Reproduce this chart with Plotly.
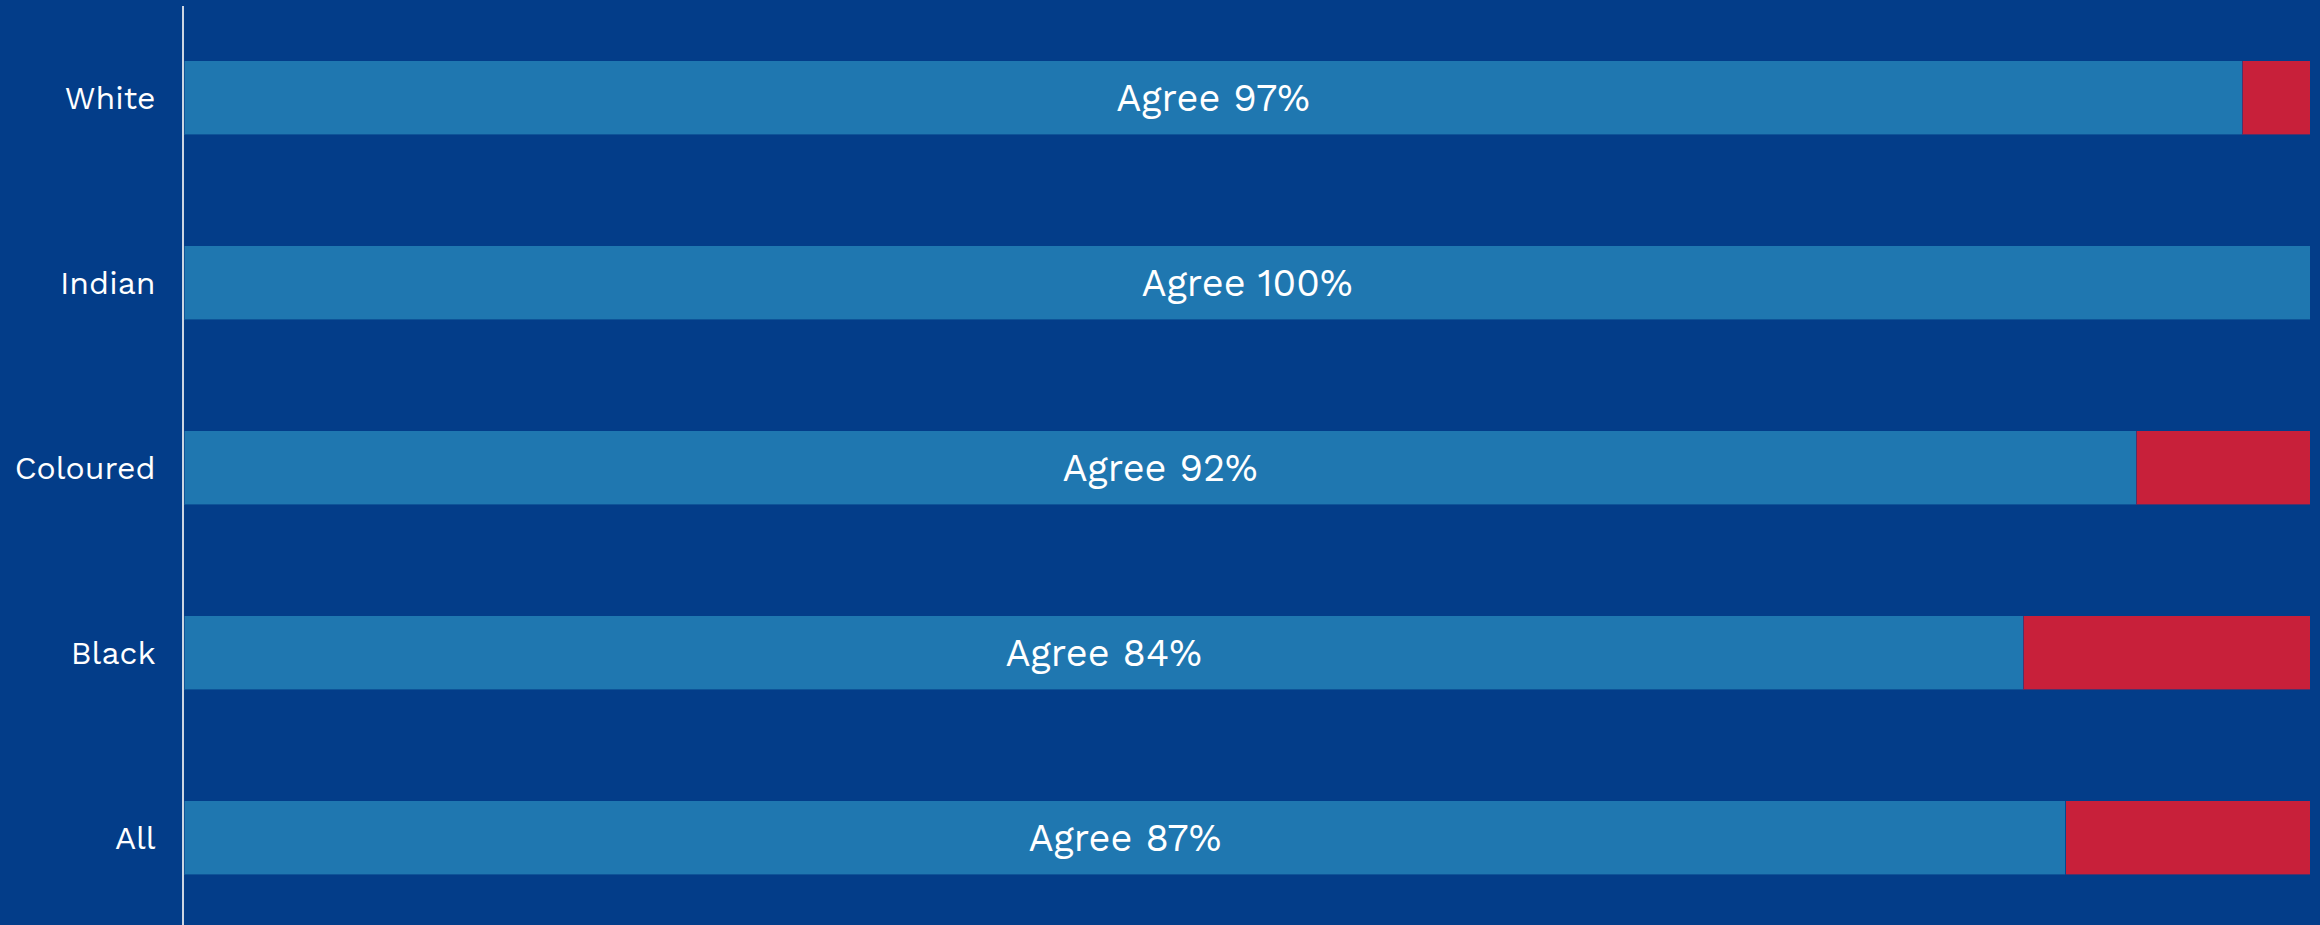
import plotly.graph_objects as go

groups = ["All", "Black", "Coloured", "Indian", "White"]
agree = [87, 84, 92, 100, 97]
disagree = [11.3, 13.1, 8.2, 0, 3.2]
agree_labels = ["Agree 87%", "Agree 84%", "Agree 92%", "Agree 100%", "Agree 97%"]

BG = "#033D89"
BLUE = "#1F77B0"
RED = "#C8203A"
FONT = "Work Sans, Noto Sans, Open Sans, sans-serif"

fig = go.Figure()
fig.add_trace(go.Bar(
    y=groups, x=agree, orientation="h", name="Agree",
    marker=dict(color=BLUE, line=dict(color="rgba(3,61,137,0.6)", width=1)),
    text=agree_labels, textposition="inside", insidetextanchor="middle",
    textangle=0, constraintext="none",
    textfont=dict(color="white", size=38, family=FONT),
    hoverinfo="skip",
))
fig.add_trace(go.Bar(
    y=groups, x=disagree, orientation="h", name="Disagree",
    marker=dict(color=RED, line=dict(color="rgba(3,61,137,0.6)", width=1)),
    hoverinfo="skip",
))

fig.update_layout(
    width=2320, height=925,
    barmode="stack", barnorm="percent", bargap=0.6,
    paper_bgcolor=BG, plot_bgcolor=BG,
    margin=dict(l=184, r=10, t=6, b=0),
    showlegend=False,
    font=dict(family=FONT, color="white"),
    xaxis=dict(range=[0, 100], visible=False, showgrid=False, zeroline=False, fixedrange=True),
    yaxis=dict(
        type="category", categoryorder="array", categoryarray=groups,
        range=[-0.471, 4.497],
        showline=True, linecolor="#CDD6E2", linewidth=2,
        showgrid=False, zeroline=False, ticks="",
        ticklabelstandoff=20,
        tickfont=dict(size=32, color="white", family=FONT),
        fixedrange=True,
    ),
)

fig.write_html(
    "out.html",
    config={"displayModeBar": False},
    post_script="document.body.style.margin='0';document.body.style.background='#033D89';document.body.style.overflow='hidden';",
)
